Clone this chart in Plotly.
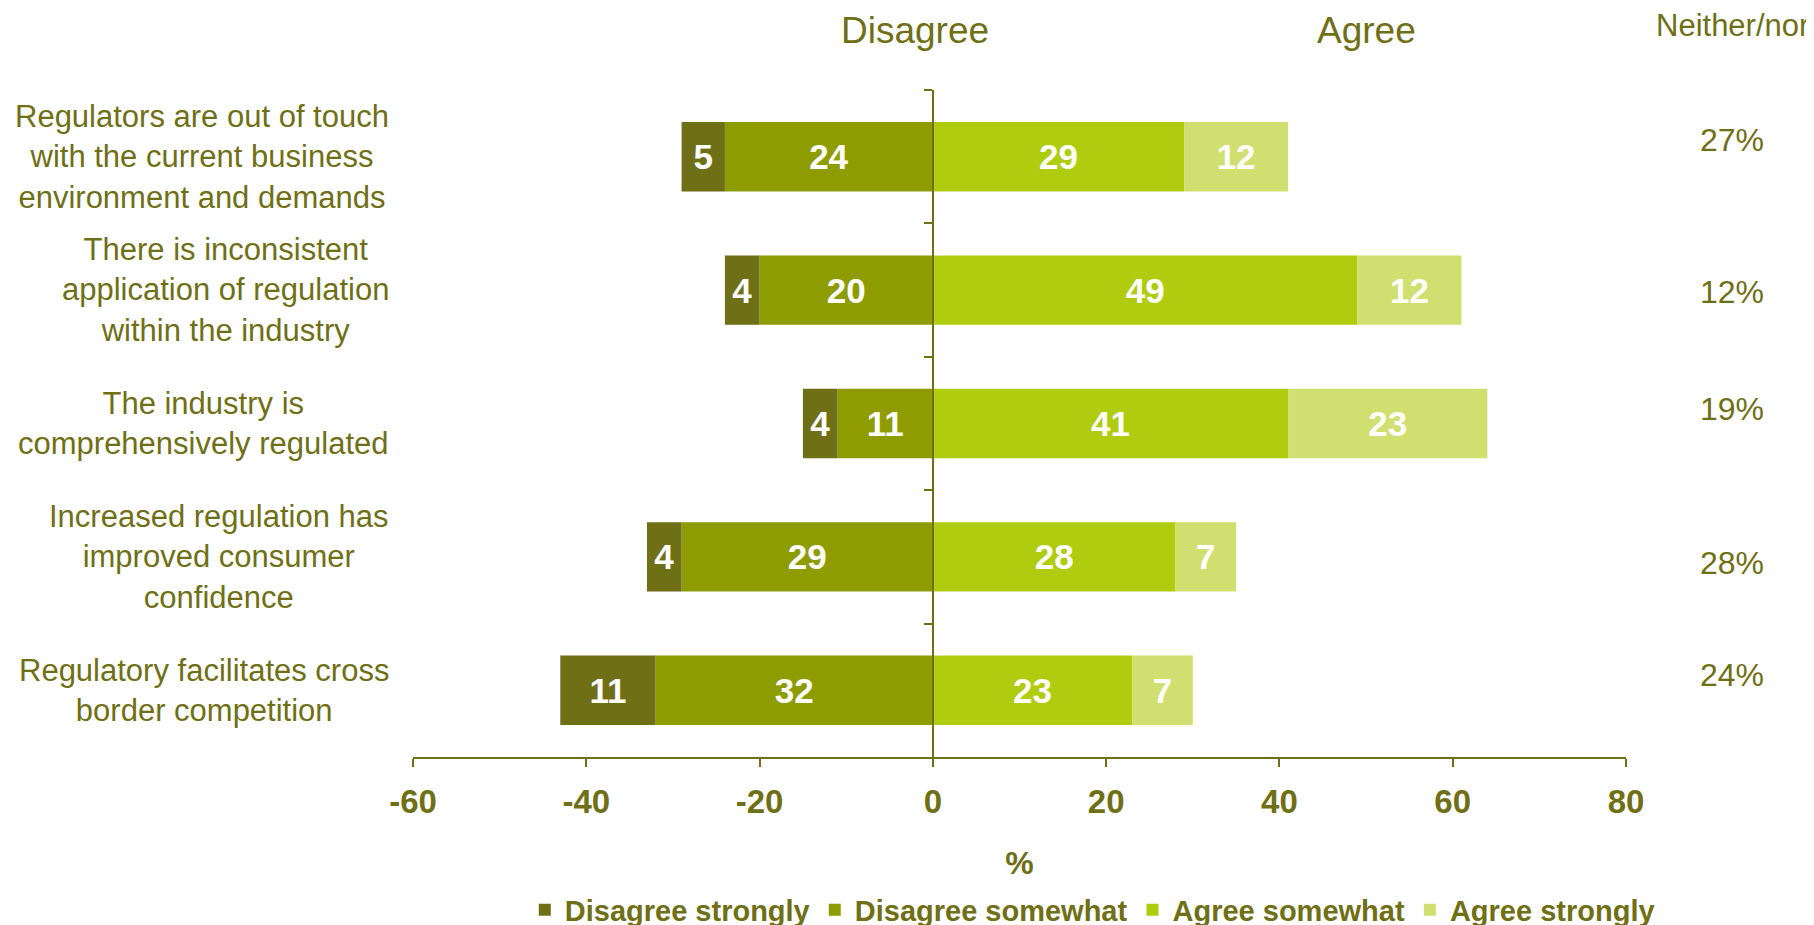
import plotly.graph_objects as go

categories = [
    "Regulators are out of touch<br>with the current business<br>environment and demands",
    "There is inconsistent<br>application of regulation<br>within the industry",
    "The industry is<br>comprehensively regulated",
    "Increased regulation has<br>improved consumer<br>confidence",
    "Regulatory facilitates cross<br>border competition",
]
disagree_strongly = [5, 4, 4, 4, 11]
disagree_somewhat = [24, 20, 11, 29, 32]
agree_somewhat = [29, 49, 41, 28, 23]
agree_strongly = [12, 12, 23, 7, 7]
neither_nor = ["27%", "12%", "19%", "28%", "24%"]
x_ticks = [-60, -40, -20, 0, 20, 40, 60, 80]

# style: small vertical nudges of the neither/nor labels (px)
nn_shift = [17, -2, 15, -6, 15]

TXT = "#6f6f16"
FONT = "Liberation Sans, Arial, sans-serif"
C_DS = "#6f6f16"
C_DW = "#8e9c00"
C_AW = "#afcc0e"
C_AS = "#cfe070"

fig = go.Figure()

def add(name, vals, color, sign, rank):
    fig.add_trace(go.Bar(
        y=categories, x=[sign * v for v in vals], orientation="h", name=name,
        marker=dict(color=color, line=dict(width=0)),
        text=[str(v) for v in vals], textposition="inside",
        insidetextanchor="middle", textangle=0, constraintext="none",
        textfont=dict(family=FONT, size=35, color="white", weight="bold"),
        legendrank=rank, hoverinfo="skip",
    ))

add("Disagree somewhat", disagree_somewhat, C_DW, -1, 2)
add("Disagree strongly", disagree_strongly, C_DS, -1, 1)
add("Agree somewhat", agree_somewhat, C_AW, 1, 3)
add("Agree strongly", agree_strongly, C_AS, 1, 4)

xmin, xmax = x_ticks[0], x_ticks[-1]
zero_pos = (0 - xmin) / (xmax - xmin)

annotations = []
for cat in categories:
    annotations.append(dict(
        x=-0.018, xref="paper", y=cat, yref="y", text=cat, showarrow=False,
        xanchor="right", yanchor="middle", align="center",
        font=dict(family=FONT, size=31, color=TXT),
    ))
for cat, nn, sh in zip(categories, neither_nor, nn_shift):
    annotations.append(dict(
        x=1.0874, xref="paper", y=cat, yref="y", text=nn, showarrow=False,
        xanchor="center", yanchor="middle", yshift=sh,
        font=dict(family=FONT, size=32, color=TXT),
    ))
annotations += [
    dict(x=0.4139, xref="paper", y=1.089, yref="paper", text="Disagree", showarrow=False,
         xanchor="center", yanchor="middle", font=dict(family=FONT, size=37, color=TXT)),
    dict(x=0.7857, xref="paper", y=1.089, yref="paper", text="Agree", showarrow=False,
         xanchor="center", yanchor="middle", font=dict(family=FONT, size=37, color=TXT)),
    dict(x=1.023, xref="paper", y=1.096, yref="paper", text="Neither/nor", showarrow=False,
         xanchor="left", yanchor="middle", font=dict(family=FONT, size=31, color=TXT)),
]

fig.update_layout(
    barmode="relative",
    bargap=0.48,
    width=1814, height=925,
    margin=dict(l=405, r=196, t=82, b=176, autoexpand=False),
    paper_bgcolor="white", plot_bgcolor="white",
    showlegend=True,
    legend=dict(orientation="h", x=0.56, xanchor="center", y=-0.2294, yanchor="middle",
                font=dict(family=FONT, size=29, color=TXT, weight="bold"),
                itemwidth=30, traceorder="normal"),
    annotations=annotations,
    xaxis=dict(range=[xmin, xmax], tickvals=x_ticks, ticktext=[str(t) for t in x_ticks],
               showgrid=False, zeroline=False, showline=True, linecolor=TXT, linewidth=2,
               ticks="outside", ticklen=8, tickcolor=TXT, tickwidth=2, ticklabelstandoff=6,
               tickfont=dict(family=FONT, size=33, color=TXT, weight="bold"),
               title=dict(text="%", font=dict(family=FONT, size=32, color=TXT, weight="bold"), standoff=33)),
    yaxis=dict(type="category", categoryorder="array", categoryarray=categories,
               autorange="reversed", anchor="free", position=zero_pos,
               showline=True, linecolor=TXT, linewidth=2, showgrid=False, zeroline=False,
               ticks="outside", tickson="boundaries", ticklen=8, tickcolor=TXT, tickwidth=2,
               showticklabels=False),
    font=dict(family=FONT, color=TXT),
)

fig.write_html("out.html")
